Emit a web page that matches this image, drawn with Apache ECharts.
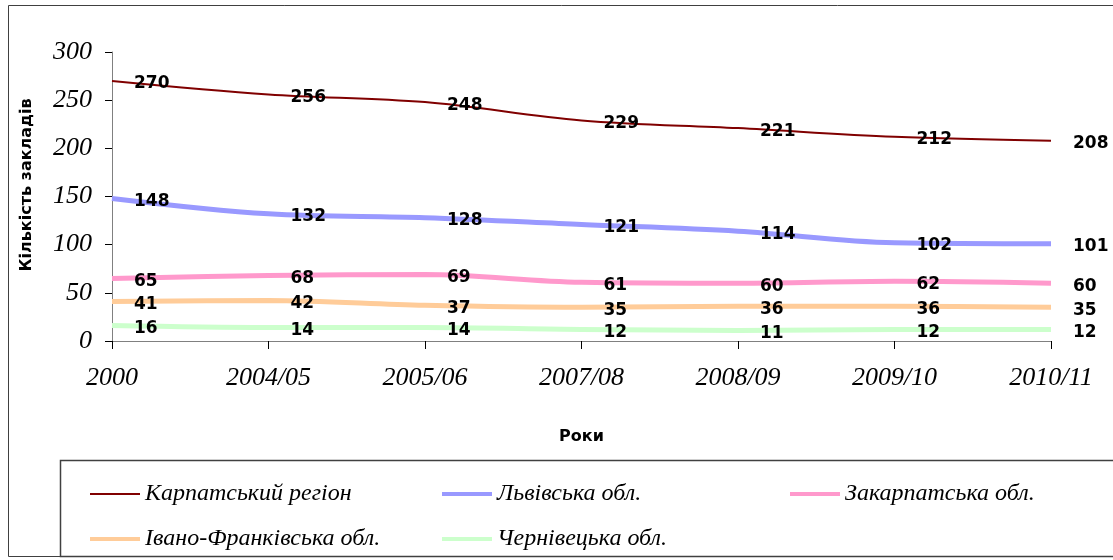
<!DOCTYPE html>
<html><head><meta charset="utf-8">
<script src="https://cdn.jsdelivr.net/npm/echarts@6/dist/echarts.min.js"></script>
<style>html,body{margin:0;padding:0;background:#fff}#c{width:1113px;height:560px}</style>
</head><body><div id="c"></div>
<script>
const categories = ['2000','2004/05','2005/06','2007/08','2008/09','2009/10','2010/11'];
const seriesNames = ['Карпатський регіон','Львівська обл.','Закарпатська обл.','Івано-Франківська обл.','Чернівецька обл.'];
const karpatskyi = [270,256,248,229,221,212,208];
const lvivska = [148,132,128,121,114,102,101];
const zakarpatska = [65,68,69,61,60,62,60];
const ivanoFrankivska = [41,42,37,35,36,36,35];
const chernivetska = [16,14,14,12,11,12,12];
const yTicks = [0,50,100,150,200,250,300];

const colors = ['#800000','#9999ff','#ff99cc','#ffcc99','#ccffcc'];
const widths = [2,5,5,5,5];
const datasets = [karpatskyi,lvivska,zakarpatska,ivanoFrankivska,chernivetska];

const chart = echarts.init(document.getElementById('c'));
const serif = '"Liberation Serif","Times New Roman",serif';
const sans = '"DejaVu Sans",Verdana,sans-serif';
const legendText = {fontFamily:serif,fontStyle:'italic',fontSize:24,color:'#000'};

chart.setOption({
  animation:false,
  backgroundColor:'#fff',
  grid:{left:112,right:62,top:52,bottom:219},
  xAxis:{type:'category',data:categories,boundaryGap:false,
    axisLine:{lineStyle:{color:'#808080',width:1}},
    axisTick:{show:true,length:8,lineStyle:{color:'#000'}},
    axisLabel:{fontFamily:serif,fontStyle:'italic',fontSize:26,color:'#000',margin:24},
    name:'Роки',nameLocation:'middle',nameGap:88,
    nameTextStyle:{fontFamily:sans,fontWeight:'bold',fontSize:16,color:'#000'}},
  yAxis:{type:'value',min:0,max:300,interval:50,
    axisLine:{show:true,lineStyle:{color:'#808080',width:1}},
    axisTick:{show:true,length:7,lineStyle:{color:'#000'}},
    splitLine:{show:false},
    axisLabel:{fontFamily:serif,fontStyle:'italic',fontSize:26,color:'#000',margin:20,
      formatter:v=>yTicks.includes(v)?String(v):''},
    name:'',
    nameTextStyle:{fontFamily:sans,fontWeight:'bold',fontSize:16,color:'#000'}},
  legend:[
    {left:85,top:477,itemWidth:50,itemHeight:2,data:[seriesNames[0]],icon:'rect',textStyle:legendText},
    {left:437,top:477,itemWidth:50,itemHeight:4,data:[seriesNames[1]],icon:'rect',textStyle:legendText},
    {left:785,top:477,itemWidth:50,itemHeight:4,data:[seriesNames[2]],icon:'rect',textStyle:legendText},
    {left:85,top:522,itemWidth:50,itemHeight:4,data:[seriesNames[3]],icon:'rect',textStyle:legendText},
    {left:437,top:522,itemWidth:50,itemHeight:4,data:[seriesNames[4]],icon:'rect',textStyle:legendText}
  ],
  graphic:[
    {type:'rect',shape:{x:8.5,y:5.5,width:1110,height:551},style:{fill:'none',stroke:'#404040',lineWidth:1},z:-1},
    {type:'rect',shape:{x:60.5,y:460.5,width:1060,height:96},style:{fill:'none',stroke:'#404040',lineWidth:1.5},z:-1},
    {type:'text',x:27,y:185,rotation:Math.PI/2,
     style:{text:'Кількість закладів',font:'bold 16px "DejaVu Sans",Verdana,sans-serif',fill:'#000',
       align:'center',verticalAlign:'middle'}}
  ],
  series: datasets.map((d,i)=>({
    name:seriesNames[i],type:'line',data:d,smooth:0.35,
    symbol:'circle',symbolSize:0,showSymbol:true,
    itemStyle:{color:colors[i]},
    lineStyle:{color:colors[i],width:widths[i]},
    label:{show:true,position:'right',distance:22,offset:[0,3],
      fontFamily:sans,fontWeight:'bold',fontSize:17,color:'#000'},
    z: 10-i
  }))
});
</script></body></html>
